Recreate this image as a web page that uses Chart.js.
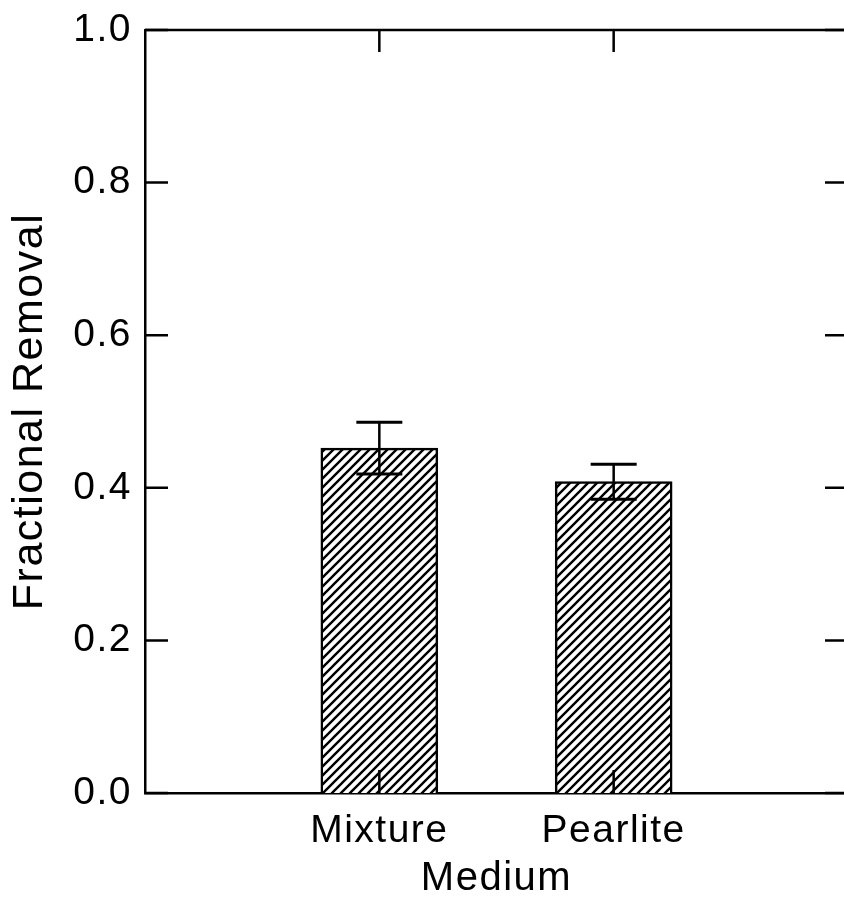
<!DOCTYPE html>
<html>
<head>
<meta charset="utf-8">
<script src="https://cdn.jsdelivr.net/npm/chart.js@4"></script>
<style>
  html, body { margin: 0; padding: 0; background: #fff; overflow: hidden; }
  #wrap { width: 851px; height: 911px; }
</style>
</head>
<body>
<div id="wrap"><canvas id="chart" width="851" height="911"></canvas></div>
<script>
// values
const categories = ["", "Mixture", "Pearlite", ""];
const removal = [null, 0.452, 0.408, null];
const removalErr = [null, 0.034, 0.023, null];
const yTickValues = [0, 0.2, 0.4, 0.6, 0.8, 1.0];
const xTitle = "Medium";
const yTitle = "Fractional Removal";

// diagonal hatch for the bars
function makeHatch() {
  const s = 9;
  const c = document.createElement("canvas");
  c.width = s;
  c.height = s;
  const g = c.getContext("2d");
  g.fillStyle = "#fff";
  g.fillRect(0, 0, s, s);
  g.strokeStyle = "#000";
  g.lineWidth = 2.4;
  g.beginPath();
  g.moveTo(-2, s + 2);
  g.lineTo(s + 2, -2);
  g.moveTo(-2, 2);
  g.lineTo(2, -2);
  g.moveTo(s - 2, s + 2);
  g.lineTo(s + 2, s - 2);
  g.stroke();
  const ctx = document.getElementById("chart").getContext("2d");
  return ctx.createPattern(c, "repeat");
}

// error bars, ticks pointing inside, top frame line
const framePlugin = {
  id: "frame",
  beforeDraw(chart) {
    chart.ctx.letterSpacing = "1.5px";
  },
  afterDatasetsDraw(chart) {
    const ctx = chart.ctx;
    const x = chart.scales.x;
    const y = chart.scales.y;
    const area = chart.chartArea;
    ctx.save();
    ctx.strokeStyle = "#000";
    ctx.lineCap = "butt";

    // error bars
    const meta = chart.getDatasetMeta(0);
    meta.data.forEach((bar, i) => {
      if (removal[i] == null) return;
      const hi = y.getPixelForValue(removal[i] + removalErr[i]);
      const lo = y.getPixelForValue(removal[i] - removalErr[i]);
      ctx.lineWidth = 2.5;
      ctx.beginPath();
      ctx.moveTo(bar.x, hi);
      ctx.lineTo(bar.x, lo);
      ctx.stroke();
      ctx.lineWidth = 3;
      ctx.beginPath();
      ctx.moveTo(bar.x - 23, hi);
      ctx.lineTo(bar.x + 23, hi);
      ctx.moveTo(bar.x - 23, lo);
      ctx.lineTo(bar.x + 23, lo);
      ctx.stroke();
    });

    // top frame line
    ctx.lineWidth = 2.5;
    ctx.beginPath();
    ctx.moveTo(area.left, area.top);
    ctx.lineTo(area.right, area.top);
    ctx.stroke();

    // y ticks on both sides, inward
    ctx.beginPath();
    yTickValues.forEach(v => {
      const py = y.getPixelForValue(v);
      ctx.moveTo(area.left, py);
      ctx.lineTo(area.left + 23, py);
      ctx.moveTo(area.right, py);
      ctx.lineTo(area.right - 23, py);
    });
    // x ticks at the categories, inward from top and bottom
    categories.forEach((c, i) => {
      if (!c) return;
      const px = x.getPixelForValue(i);
      ctx.moveTo(px, area.top);
      ctx.lineTo(px, area.top + 22);
      ctx.moveTo(px, area.bottom);
      ctx.lineTo(px, area.bottom - 23);
    });
    ctx.stroke();
    ctx.restore();
  }
};

new Chart(document.getElementById("chart"), {
  type: "bar",
  data: {
    labels: categories,
    datasets: [{
      data: removal,
      backgroundColor: makeHatch(),
      borderColor: "#000",
      borderWidth: 2.5,
      barThickness: 117
    }]
  },
  options: {
    responsive: false,
    animation: false,
    layout: { padding: { top: 30, right: 3, left: 0, bottom: 0 } },
    plugins: {
      legend: { display: false },
      tooltip: { enabled: false }
    },
    scales: {
      x: {
        offset: false,
        grid: { display: false, drawTicks: false },
        border: { display: true, color: "#000", width: 2.5 },
        ticks: {
          color: "#000",
          padding: 15,
          maxRotation: 0,
          autoSkip: false,
          font: { family: "'Liberation Sans', Arial, sans-serif", size: 39 }
        },
        title: {
          display: true,
          text: xTitle,
          color: "#000",
          padding: { top: 0, bottom: 8 },
          font: { family: "'Liberation Sans', Arial, sans-serif", size: 40 }
        },
        afterFit(scale) {
          scale.height = 118;
          scale.paddingLeft = 0;
          scale.paddingRight = 0;
        }
      },
      y: {
        min: 0,
        max: 1,
        afterBuildTicks(scale) {
          scale.ticks = yTickValues.map(v => ({ value: v }));
        },
        grid: { display: false, drawTicks: false },
        border: { display: true, color: "#000", width: 2.5 },
        ticks: {
          color: "#000",
          padding: 13,
          callback: v => v.toFixed(1),
          font: { family: "'Liberation Sans', Arial, sans-serif", size: 39 }
        },
        title: {
          display: true,
          text: yTitle,
          color: "#000",
          padding: { top: 4, bottom: 0 },
          font: { family: "'Liberation Sans', Arial, sans-serif", size: 43 }
        },
        afterFit(scale) {
          scale.width = 145;
          scale.paddingTop = 0;
          scale.paddingBottom = 0;
        }
      }
    }
  },
  plugins: [framePlugin]
});
</script>
</body>
</html>
